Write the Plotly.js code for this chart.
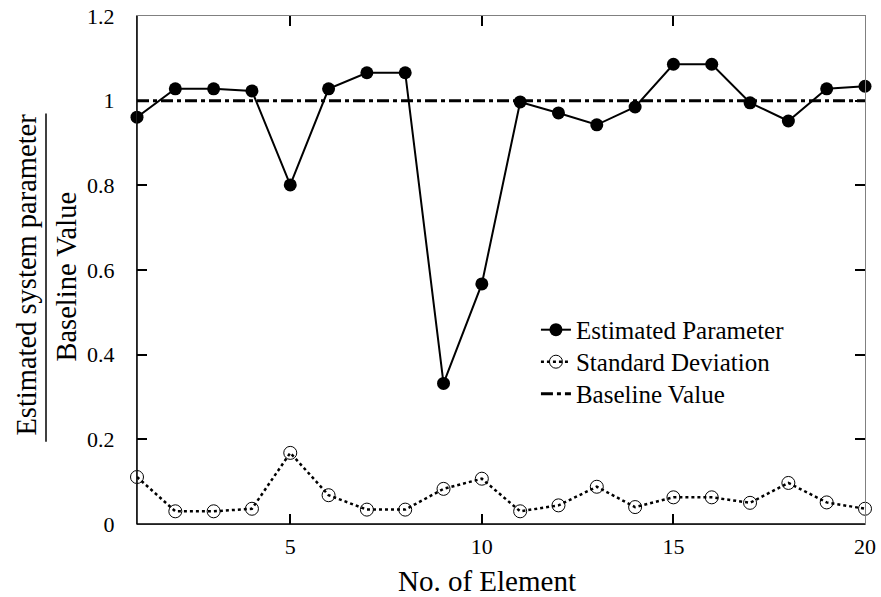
<!DOCTYPE html>
<html>
<head>
<meta charset="utf-8">
<script src="https://cdn.plot.ly/plotly-3.0.1.min.js"></script>
<style>html,body{margin:0;padding:0;background:#fff;}#chart{width:881px;height:597px;}</style>
</head>
<body>
<div id="chart"></div>
<script>
const elements = [1,2,3,4,5,6,7,8,9,10,11,12,13,14,15,16,17,18,19,20];
const estimated = [0.961,1.028,1.028,1.023,0.801,1.028,1.066,1.066,0.332,0.567,0.997,0.971,0.943,0.985,1.086,1.086,0.995,0.952,1.028,1.034];
const stdDev = [0.111,0.030,0.030,0.036,0.168,0.068,0.034,0.034,0.083,0.107,0.030,0.044,0.088,0.040,0.063,0.063,0.050,0.097,0.051,0.036];
const baselineX = [1,20];
const baselineY = [1,1];
const xTicks = [5,10,15,20];
const yTicks = [0,0.2,0.4,0.6,0.8,1,1.2];
const yTickLabels = ['0','0.2','0.4','0.6','0.8','1','1.2'];

const font = 'Liberation Serif, Times New Roman, serif';
const legFont = {family: font, size: 25, color: '#000'};

const traces = [
  {x: elements, y: estimated, name: 'Estimated Parameter', mode: 'lines+markers', legend: 'legend',
   line: {color: '#000', width: 2}, marker: {symbol: 'circle', size: 13, color: '#000'}, cliponaxis: false},
  {x: elements, y: stdDev, name: 'Standard Deviation', mode: 'lines+markers', legend: 'legend2',
   line: {color: '#000', width: 2.5, dash: 'dot'}, marker: {symbol: 'circle-open', size: 13, color: '#000', line: {width: 1, color: '#000'}}, cliponaxis: false},
  {x: baselineX, y: baselineY, name: 'Baseline Value', mode: 'lines', legend: 'legend3',
   line: {color: '#000', width: 3, dash: '12px,4px,4px,4px'}}
];

const legBase = {x: 0.548, xanchor: 'left', yanchor: 'middle', bgcolor: 'rgba(0,0,0,0)', font: legFont, tracegroupgap: 0};

const layout = {
  width: 881, height: 597,
  margin: {l: 137, r: 16, t: 15.5, b: 72.6},
  paper_bgcolor: '#fff', plot_bgcolor: '#fff',
  font: {family: font, color: '#000', size: 22},
  showlegend: true,
  legend: Object.assign({}, legBase, {y: 0.382}),
  legend2: Object.assign({}, legBase, {y: 0.319}),
  legend3: Object.assign({}, legBase, {y: 0.256}),
  xaxis: {range: [1,20], tickvals: xTicks, ticks: 'inside', ticklen: 10, tickwidth: 2, tickcolor: '#000',
          showline: true, linecolor: '#808080', linewidth: 1, mirror: 'ticks', showgrid: false, zeroline: false,
          ticklabelstandoff: 3, tickfont: {size: 22}},
  yaxis: {range: [0,1.2], tickvals: yTicks, ticktext: yTickLabels, ticks: 'inside', ticklen: 10, tickwidth: 2, tickcolor: '#000',
          showline: true, linecolor: '#808080', linewidth: 1, mirror: 'ticks', showgrid: false, zeroline: false,
          ticklabelstandoff: 17, tickfont: {size: 22}},
  shapes: [
    {type: 'line', xref: 'paper', yref: 'paper', x0: 0, x1: 1, y0: 0, y1: 0, line: {color: '#000', width: 1.5}},
    {type: 'line', xref: 'paper', yref: 'paper', x0: 0, x1: 0, y0: 0, y1: 1, line: {color: '#000', width: 1.5}},
    {type: 'line', xref: 'paper', yref: 'paper', x0: -0.125, x1: -0.125, y0: 0.162, y1: 0.808, line: {color: '#000', width: 1.5}}
  ],
  annotations: [
    {text: 'Estimated system parameter', xref: 'paper', yref: 'paper', x: 0, xshift: -110, y: 0.491,
     xanchor: 'center', yanchor: 'middle', textangle: -90, showarrow: false, font: {family: font, size: 28.5, color: '#000'}},
    {text: 'Baseline Value', xref: 'paper', yref: 'paper', x: 0, xshift: -70, y: 0.487,
     xanchor: 'center', yanchor: 'middle', textangle: -90, showarrow: false, font: {family: font, size: 28.5, color: '#000'}},
    {text: 'No. of Element', xref: 'paper', yref: 'paper', x: 0.481, y: 0, yshift: -56.6,
     xanchor: 'center', yanchor: 'middle', showarrow: false, font: {family: font, size: 29, color: '#000'}}
  ]
};

Plotly.newPlot('chart', traces, layout, {displayModeBar: false, staticPlot: true});
</script>
</body>
</html>
